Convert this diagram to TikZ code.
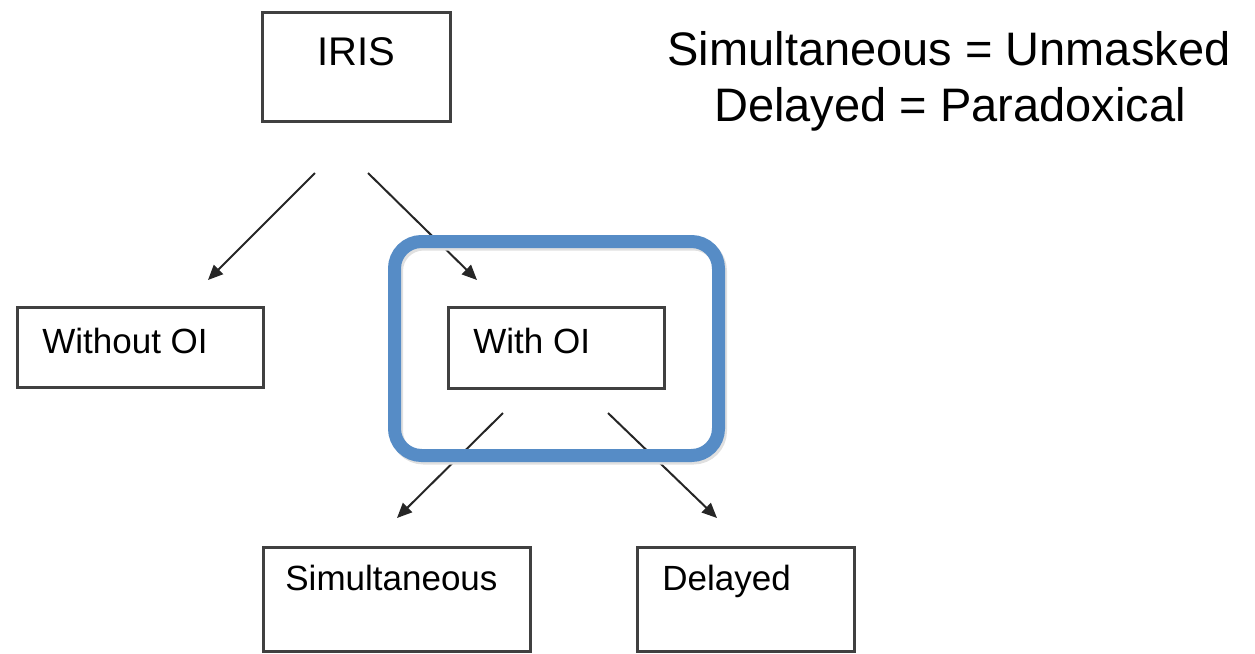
\documentclass[tikz,border=0pt]{standalone}
\usepackage{fontspec}
\setmainfont{Liberation Sans}
\usetikzlibrary{arrows.meta}

\definecolor{hiblue}{RGB}{86,140,198}

\tikzset{
    box/.style={draw=black!75, line width=1.5pt, rectangle, inner sep=0pt},
    boxtext/.style={anchor=base west, inner sep=0pt, font=\fontsize{17.5}{20}\selectfont},
    arr/.style={draw=black!85, line width=1pt, -{Triangle[length=7.5pt,width=6.5pt]}},
    note/.style={anchor=base, inner sep=0pt, font=\fontsize{23.5}{28}\selectfont}
}

\begin{document}
\begin{tikzpicture}[x=0.5pt, y=-0.5pt]
        \useasboundingbox (0,0) rectangle (1255,654);

        % boxes
        \node[box, minimum width=94pt, minimum height=54.5pt] (iris) at (356,66.5) {};
        \node[box, minimum width=123pt, minimum height=40pt] (without) at (140,347) {};
        \node[box, minimum width=108pt, minimum height=40.5pt] (with) at (556,347.5) {};
        \node[box, minimum width=133.5pt, minimum height=52pt] (simul) at (396.5,599) {};
        \node[box, minimum width=108.5pt, minimum height=52pt] (delayed) at (745.5,599) {};

        \node[boxtext, font=\fontsize{20}{24}\selectfont] (irisText) at (317,65) {IRIS};
        \node[boxtext] (withoutText) at (42,353) {Without OI};
        \node[boxtext] (withText) at (473,353) {With OI};
        \node[boxtext] (simulText) at (285,590) {Simultaneous};
        \node[boxtext] (delayedText) at (662,590) {Delayed};

        % arrow ends
        \coordinate (irisL) at (315,173);
        \coordinate (irisR) at (368,173);
        \coordinate (withoutTop) at (208,280);
        \coordinate (withTop) at (477,280);
        \coordinate (withL) at (503,413);
        \coordinate (withR) at (608,413);
        \coordinate (simulTop) at (397,518);
        \coordinate (delayedTop) at (717,518);

        \draw[arr] (irisL) -- (withoutTop);
        \draw[arr] (irisR) -- (withTop);
        \draw[arr] (withL) -- (simulTop);
        \draw[arr] (withR) -- (delayedTop);

        % highlight
        \draw[black!12, line width=6.5pt, rounded corners=13.5pt] (396.5,244) rectangle (720.5,458);
        \draw[hiblue, line width=6.5pt, rounded corners=13.5pt] (394.5,241.5) rectangle (718.5,455.5);

        \node[note] (noteA) at (949,65) {Simultaneous = Unmasked};
        \node[note] (noteB) at (950,121) {Delayed = Paradoxical};
    \end{tikzpicture}
\end{document}
